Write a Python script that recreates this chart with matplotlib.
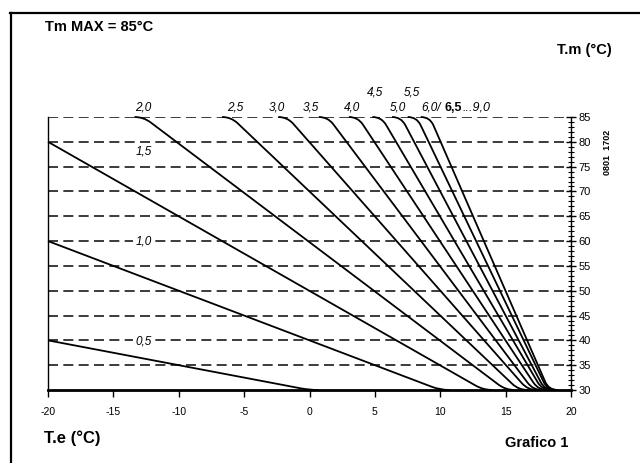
import numpy as np
import matplotlib
matplotlib.use("Agg")
import matplotlib.pyplot as plt
from matplotlib.path import Path
from matplotlib.patches import PathPatch
from matplotlib.lines import Line2D

plt.rcParams['font.family'] = ['Liberation Sans', 'DejaVu Sans']

# curves: slope labels, start point (top / left), end point on 30 °C
curve_labels = ['0,5', '1,0', '1,5', '2,0', '2,5', '3,0', '3,5', '4,0', '4,5', '5,0', '5,5', '6,0']
start_x = [-20, -20, -20, -12.7, -6.0, -1.7, 1.4, 3.7, 5.5, 7.0, 8.2, 9.2]
start_y = [40, 60, 80, 85, 85, 85, 85, 85, 85, 85, 85, 85]
end_x = [0.0, 10.0, 13.3, 15.0, 16.0, 16.7, 17.1, 17.5, 17.8, 18.0, 18.2, 18.3]
end_y = [30] * 12

grid_levels = [35, 40, 45, 50, 55, 60, 65, 70, 75, 80, 85]
x_ticks = [-20, -15, -10, -5, 0, 5, 10, 15, 20]
y_ticks = [30, 35, 40, 45, 50, 55, 60, 65, 70, 75, 80, 85]

fig = plt.figure(figsize=(6.4, 4.63), dpi=100)
ax = fig.add_axes([48/640, 1-390/463, 523/640, 273/463])
ax.set_xlim(-20, 20)
ax.set_ylim(30, 85)

# px per data unit (for rounding the corners evenly on screen)
px_x = 523/40
px_y = 273/55

for lv in grid_levels:
    ax.axhline(lv, color='#1a1a1a', lw=1.2, dashes=(6, 3.2), zorder=1)


def curve_path(x0, y0, x1, y1, r=9.0):
    s = (y0 - y1)/(x1 - x0)
    unit = np.hypot(px_x, px_y*s)
    d = r/unit
    verts, codes = [], []
    if y0 >= 85:
        verts += [(x0 - r/px_x, y0), (x0, y0), (x0 + d, y0 - s*d)]
        codes += [Path.MOVETO, Path.CURVE3, Path.CURVE3]
    else:
        verts += [(x0, y0)]
        codes += [Path.MOVETO]
    verts += [(x1 - d, y1 + s*d), (x1, y1), (x1 + r/px_x, y1)]
    codes += [Path.LINETO, Path.CURVE3, Path.CURVE3]
    return Path(verts, codes)


for x0, y0, x1, y1 in zip(start_x, start_y, end_x, end_y):
    ax.add_patch(PathPatch(curve_path(x0, y0, x1, y1), fill=False,
                           lw=1.3, color='black', zorder=3, clip_on=False))

# labels on top
fs = 8.5
top_lab = {'2,0': (-12.7, 86.9), '2,5': (-5.7, 86.9), '3,0': (-2.5, 86.9),
           '3,5': (0.1, 86.9), '4,0': (3.25, 86.9), '4,5': (5.0, 90.0),
           '5,0': (6.75, 86.9), '5,5': (7.8, 90.0)}
for t, (x, y) in top_lab.items():
    ax.text(x, y, t, fontsize=fs, style='italic', ha='center', va='center')
ax.text(8.55, 86.9, '6,0/', fontsize=fs, style='italic', ha='left', va='center')
ax.text(10.3, 86.9, '6,5', fontsize=9, fontweight='bold', ha='left', va='center')
ax.text(11.7, 86.9, '...9,0', fontsize=9, style='italic', ha='left', va='center')

# inline labels
for t, (x, y) in {'1,5': (-12.7, 78.0), '1,0': (-12.7, 59.9), '0,5': (-12.7, 39.8)}.items():
    ax.text(x, y, t, fontsize=fs, style='italic', ha='center', va='center',
            zorder=2, bbox=dict(fc='white', ec='none', pad=1.5))

ax.spines['top'].set_visible(False)
ax.spines['left'].set_linewidth(1.0)
ax.spines['right'].set_linewidth(1.0)
ax.spines['bottom'].set_linewidth(2.0)
ax.spines['bottom'].set_zorder(4)

ax.set_xticks(x_ticks)
ax.set_xticklabels([str(v) for v in x_ticks])
ax.tick_params(axis='x', direction='out', length=5, width=1, labelsize=7.5, pad=7)
ax.yaxis.tick_right()
ax.set_yticks(y_ticks)
ax.set_yticks(np.arange(30, 86, 1), minor=True)
ax.tick_params(axis='y', which='major', direction='inout', length=7, width=1,
               labelsize=8, pad=2)
ax.tick_params(axis='y', which='minor', direction='inout', length=4, width=0.8)

# frame around the drawing
fig.add_artist(Line2D([10/640, 1], [1-13/463, 1-13/463], color='black', lw=1.6))
fig.add_artist(Line2D([11/640, 11/640], [0, 1-13/463], color='black', lw=1.6))

fig.text(45/640, 1-27/463, 'Tm MAX = 85°C', fontsize=10.5, fontweight='bold', va='center')
fig.text(612/640, 1-50/463, 'T.m (°C)', fontsize=10.5, fontweight='bold', ha='right', va='center')
fig.text(44/640, 1-438/463, 'T.e (°C)', fontsize=12, fontweight='bold', va='center')
fig.text(568/640, 1-443/463, 'Grafico 1', fontsize=10.5, fontweight='bold', ha='right', va='center')
fig.text(607/640, 1-152/463, '0801  1702', fontsize=6.5, fontweight='bold', rotation=90,
         ha='center', va='center')

fig.savefig('out.png', dpi=100)
